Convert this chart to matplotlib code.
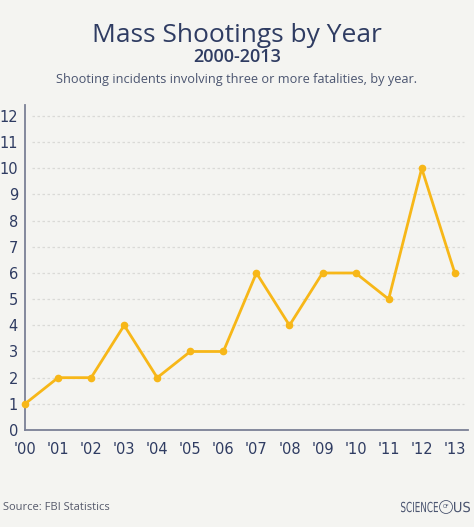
import matplotlib.pyplot as plt
from matplotlib.patches import Circle, PathPatch
from matplotlib.textpath import TextPath
from matplotlib.font_manager import FontProperties
from matplotlib.transforms import Affine2D

years = ["'00", "'01", "'02", "'03", "'04", "'05", "'06",
         "'07", "'08", "'09", "'10", "'11", "'12", "'13"]
incidents = [1, 2, 2, 4, 2, 3, 3, 6, 4, 6, 6, 5, 10, 6]
y_ticks = list(range(0, 13))

bg = '#f4f4f1'
navy = '#2f3c62'
grey_navy = '#4b5570'
gold = '#f7b718'

W, H = 474, 527
fig = plt.figure(figsize=(W / 100, H / 100), dpi=100, facecolor=bg)
ax = fig.add_axes([25 / W, 97 / H, 443 / W, 325 / H], facecolor=bg)

xs = list(range(len(years)))
ax.plot(xs, incidents, color=gold, lw=2, marker='o', ms=4.5,
        mfc=gold, mec=gold, zorder=3, clip_on=False)

ax.set_xlim(0, 13.4)
ax.set_ylim(0, 12.42)
ax.set_xticks(xs)
ax.set_xticklabels(years)
ax.set_yticks(y_ticks)
ax.set_yticklabels([str(v) for v in y_ticks])

for v in y_ticks[1:]:
    ax.axhline(v, xmin=0.016, xmax=0.99, color='#dadad7', lw=0.9,
               ls=(0, (2, 2)), zorder=1)

for s in ['top', 'right']:
    ax.spines[s].set_visible(False)
for s in ['left', 'bottom']:
    ax.spines[s].set_color('#7b8096')
    ax.spines[s].set_linewidth(1.3)

ax.tick_params(axis='x', length=0, pad=9, labelsize=10.5, labelcolor=navy)
ax.tick_params(axis='y', length=0, pad=5, labelsize=10.5, labelcolor=navy)

fig.text(0.5, 1 - 35 / H, 'Mass Shootings by Year', ha='center', va='center',
         fontsize=19, color=navy, family='Open Sans')
fig.text(0.5, 1 - 57 / H, '2000-2013', ha='center', va='center',
         fontsize=13, color=navy, family='Open Sans', fontweight='semibold')
fig.text(0.5, 1 - 79 / H, 'Shooting incidents involving three or more fatalities, by year.',
         ha='center', va='center', fontsize=9.2, color=grey_navy, family='Open Sans')

fig.text(3 / W, 1 - 507 / H, 'Source: FBI Statistics', ha='left', va='center',
         fontsize=8, color='#55596a', family='Open Sans')


# logo: condensed letters drawn as scaled text paths (pixel coords)
def squeezed(text, x0, x1, y_mid, cap):
    fp = FontProperties(family='DejaVu Sans')
    tp = TextPath((0, 0), text, size=cap / 0.73, prop=fp)
    ext = tp.get_extents()
    sx = (x1 - x0) / ext.width
    tr = Affine2D().translate(-ext.x0, -ext.y0).scale(sx, cap / ext.height) \
        .translate(x0, H - y_mid - cap / 2)
    fig.add_artist(PathPatch(tr.transform_path(tp), transform=None,
                             fc=grey_navy, ec='none'))


squeezed('SCIENCE', 401, 438, 507, 10.5)
squeezed('US', 454, 470, 507, 10.5)
fig.add_artist(Circle((446, H - 507), 6.5, transform=None, fill=False,
                      ec=grey_navy, lw=0.6))
fig.text(446 / W, 1 - 507 / H, 'OF', ha='center', va='center',
         fontsize=3.5, color=grey_navy)

fig.savefig('out.png', dpi=100, facecolor=bg)
